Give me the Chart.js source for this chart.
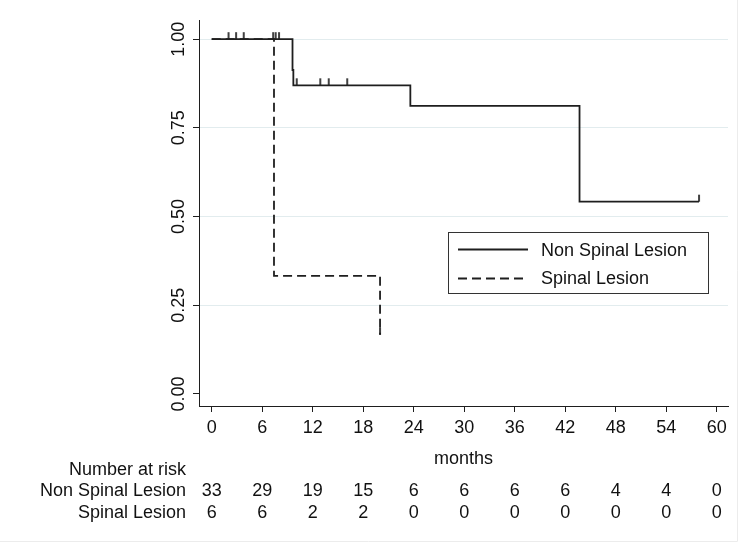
<!DOCTYPE html>
<html>
<head>
<meta charset="utf-8">
<script src="https://cdn.jsdelivr.net/npm/chart.js@4.4.0/dist/chart.umd.min.js"></script>
<style>
  html, body { margin: 0; padding: 0; background: #fff; }
  #wrap { width: 750px; height: 545px; position: relative; }
</style>
</head>
<body>
<div id="wrap"><canvas id="myChart" width="750" height="545"></canvas></div>
<script>
// KM steps (time in months, survival)
const nonSpinalTime = [0, 9.6, 9.7, 23.6, 43.7, 57.9];
const nonSpinalSurv = [1, 0.913, 0.87, 0.812, 0.542, 0.542];
const nonSpinalCensored = [2.0, 2.9, 3.8, 7.3, 7.6, 8.0, 10.1, 12.9, 13.9, 16.1, 57.9];

const spinalTime = [0, 7.4, 20.0];
const spinalSurv = [1, 0.333, 0.167];
const spinalCensored = [20.0];

const monthTicks = [0, 6, 12, 18, 24, 30, 36, 42, 48, 54, 60];
const survTicks = [0, 0.25, 0.5, 0.75, 1];

// number at risk table
const riskLabels = ["Non Spinal Lesion", "Spinal Lesion"];
const nonSpinalRisk = [33, 29, 19, 15, 6, 6, 6, 6, 4, 4, 0];
const spinalRisk = [6, 6, 2, 2, 0, 0, 0, 0, 0, 0, 0];

const FONT = "Liberation Sans";
const INK = "#1e1e1e";

function survAt(times, surv, t) {
  let s = surv[0];
  for (let i = 0; i < times.length; i++) {
    if (times[i] <= t) s = surv[i];
  }
  return s;
}

function toPoints(xs, ys) {
  return xs.map((x, i) => ({ x: x, y: ys[i] }));
}

// little upward tick for censored obs (drawn above the point)
function censorMark() {
  const c = document.createElement("canvas");
  c.width = 4;
  c.height = 16;
  const g = c.getContext("2d");
  g.strokeStyle = "#111";
  g.lineWidth = 1.6;
  g.beginPath();
  g.moveTo(2, 1);
  g.lineTo(2, 8);
  g.stroke();
  return c;
}
const tickMark = censorMark();

const legendBox = {
  id: "legendBox",
  afterDraw(chart) {
    const ctx = chart.ctx;
    ctx.save();
    ctx.strokeStyle = "#333";
    ctx.lineWidth = 1;
    ctx.strokeRect(448.5, 232.5, 260, 61);
    ctx.strokeStyle = INK;
    ctx.lineWidth = 1.8;
    ctx.beginPath();
    ctx.moveTo(458, 249.5);
    ctx.lineTo(528, 249.5);
    ctx.stroke();
    ctx.setLineDash([9, 5]);
    ctx.beginPath();
    ctx.moveTo(458, 278.5);
    ctx.lineTo(528, 278.5);
    ctx.stroke();
    ctx.setLineDash([]);
    ctx.fillStyle = "#111";
    ctx.font = "18px '" + FONT + "'";
    ctx.textBaseline = "middle";
    ctx.textAlign = "left";
    ctx.fillText(riskLabels[0], 541, 251);
    ctx.fillText(riskLabels[1], 541, 279);
    ctx.restore();
  },
};

const riskTable = {
  id: "riskTable",
  afterDraw(chart) {
    const ctx = chart.ctx;
    const xs = chart.scales.x;
    ctx.save();
    ctx.fillStyle = "#111";
    ctx.font = "18px '" + FONT + "'";
    ctx.textBaseline = "middle";
    ctx.textAlign = "right";
    ctx.fillText("Number at risk", 186, 470);
    ctx.fillText(riskLabels[0], 186, 491);
    ctx.fillText(riskLabels[1], 186, 513);
    ctx.textAlign = "center";
    for (let i = 0; i < monthTicks.length; i++) {
      const px = xs.getPixelForValue(monthTicks[i]);
      ctx.fillText(String(nonSpinalRisk[i]), px, 491);
      ctx.fillText(String(spinalRisk[i]), px, 513);
    }
    // faint outer frame of the graph region
    ctx.strokeStyle = "#ececec";
    ctx.lineWidth = 1;
    ctx.beginPath();
    ctx.moveTo(0, 541.5);
    ctx.lineTo(737.5, 541.5);
    ctx.lineTo(737.5, 0);
    ctx.stroke();
    ctx.restore();
  },
};

const ctx = document.getElementById("myChart").getContext("2d");
const myChart = new Chart(ctx, {
  type: "scatter",
  data: {
    datasets: [
      {
        label: riskLabels[0],
        data: toPoints(nonSpinalTime, nonSpinalSurv),
        showLine: true,
        stepped: true,
        borderColor: INK,
        borderWidth: 1.8,
        pointRadius: 0,
      },
      {
        label: riskLabels[1],
        data: toPoints(spinalTime, spinalSurv),
        showLine: true,
        stepped: true,
        borderColor: INK,
        borderWidth: 1.8,
        borderDash: [9, 5],
        pointRadius: 0,
      },
      {
        label: "censored 1",
        data: nonSpinalCensored.map((t) => ({ x: t, y: survAt(nonSpinalTime, nonSpinalSurv, t) })),
        pointStyle: tickMark,
        showLine: false,
      },
      {
        label: "censored 2",
        data: spinalCensored.map((t) => ({ x: t, y: survAt(spinalTime, spinalSurv, t) })),
        pointStyle: tickMark,
        showLine: false,
      },
    ],
  },
  options: {
    responsive: false,
    animation: false,
    devicePixelRatio: 1,
    layout: { padding: { left: 0, right: 22, top: 20, bottom: 0 } },
    plugins: {
      legend: { display: false },
      tooltip: { enabled: false },
    },
    scales: {
      x: {
        type: "linear",
        min: -1.51,
        max: 61.34,
        afterBuildTicks: (axis) => {
          axis.ticks = monthTicks.map((v) => ({ value: v }));
        },
        afterFit: (axis) => {
          axis.height = 139;
        },
        border: { display: true, color: INK, width: 1 },
        grid: { drawOnChartArea: false, tickColor: INK, tickLength: 6 },
        ticks: {
          padding: 5,
          maxRotation: 0,
          autoSkip: false,
          color: "#111",
          font: { family: FONT, size: 18 },
          callback: (v) => String(v),
        },
        title: {
          display: true,
          text: "months",
          color: "#111",
          font: { family: FONT, size: 18 },
          padding: { top: 0, bottom: 75 },
        },
      },
      y: {
        type: "linear",
        min: -0.034,
        max: 1.054,
        afterBuildTicks: (axis) => {
          axis.ticks = survTicks.map((v) => ({ value: v }));
        },
        afterFit: (axis) => {
          axis.width = 199;
        },
        border: { display: true, color: INK, width: 1 },
        grid: {
          color: (c) => (c.tick && c.tick.value === 0 ? "rgba(0,0,0,0)" : "#e2ecee"),
          tickColor: INK,
          tickLength: 6,
        },
        ticks: {
          minRotation: 90,
          maxRotation: 90,
          crossAlign: "center",
          padding: -3.5,
          color: "#111",
          font: { family: FONT, size: 18 },
          callback: (v) => v.toFixed(2),
        },
      },
    },
  },
  plugins: [legendBox, riskTable],
});
</script>
</body>
</html>
